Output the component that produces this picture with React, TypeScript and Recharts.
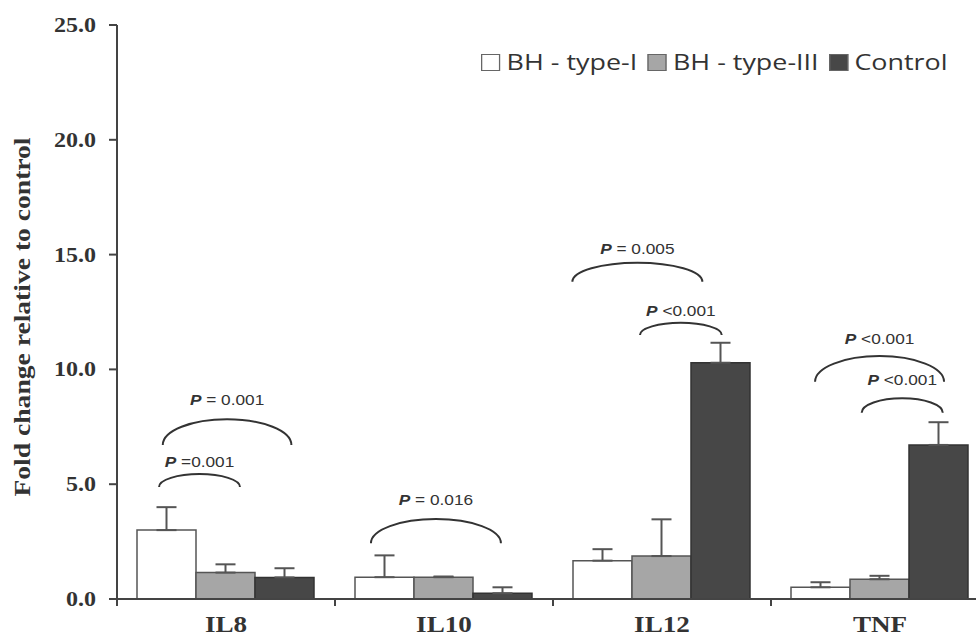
import React from 'react';
import { BarChart, Bar, XAxis, YAxis, ErrorBar, ReferenceArea, Legend, Label } from 'recharts';

const categories = ['IL8', 'IL10', 'IL12', 'TNF'];
const typeI = [3.0, 0.95, 1.67, 0.51];
const typeIErr = [1.0, 0.95, 0.5, 0.22];
const typeIII = [1.15, 0.95, 1.87, 0.86];
const typeIIIErr = [0.36, 0.03, 1.6, 0.15];
const control = [0.94, 0.25, 10.29, 6.71];
const controlErr = [0.4, 0.26, 0.87, 0.99];
const yTicks = [0, 5, 10, 15, 20, 25];
const seriesNames = ['BH - type-I', 'BH - type-III', 'Control'];
const seriesFills = ['#ffffff', '#a6a6a6', '#474747'];

// significance brackets: category, start/end as fraction of the category band, y values
const bracketCat = ['IL8', 'IL8', 'IL10', 'IL12', 'IL12', 'TNF', 'TNF'];
const bracketF1 = [0.21, 0.193, 0.165, 0.089, 0.399, 0.202, 0.416];
const bracketF2 = [0.8, 0.564, 0.761, 0.685, 0.774, 0.794, 0.788];
const bracketYEnd = [6.71, 4.88, 2.43, 13.82, 11.5, 9.46, 8.11];
const bracketYTop = [7.83, 5.44, 3.48, 14.65, 12.03, 10.58, 8.74];
const bracketLabelY = [8.67, 5.98, 4.34, 15.27, 12.56, 11.32, 9.57];
const bracketLabels = ['P = 0.001', 'P =0.001', 'P = 0.016', 'P = 0.005', 'P <0.001', 'P <0.001', 'P <0.001'];

const data = categories.map((name, i) => ({
  name,
  t1: typeI[i],
  t1Err: [0, typeIErr[i]],
  t3: typeIII[i],
  t3Err: [0, typeIIIErr[i]],
  ctl: control[i],
  ctlErr: [0, controlErr[i]],
}));

const SERIF = '"Liberation Serif", "Times New Roman", serif';
const SANS = '"Liberation Sans", Arial, sans-serif';

const YTick = (props: any) => {
  const { x, y, payload } = props;
  return (
    <g transform={`translate(${x},${y}) scale(1.2,1)`}>
      <text x={0} y={0} dy="0.35em" textAnchor="end" fontFamily={SERIF} fontWeight="bold" fontSize={20} fill="#333">
        {Number(payload.value).toFixed(1)}
      </text>
    </g>
  );
};

const XTick = (props: any) => {
  const { x, y, payload } = props;
  return (
    <g transform={`translate(${x},${y}) scale(1.18,1)`}>
      <text x={0} y={12} textAnchor="middle" fontFamily={SERIF} fontWeight="bold" fontSize={23} fill="#333">
        {payload.value}
      </text>
    </g>
  );
};

const renderTitle = (props: any) => {
  const vb = props.viewBox || {};
  const cx = (vb.x || 0) + 22;
  const cy = (vb.y || 0) + (vb.height || 0) / 2 + 5;
  return (
    <g transform={`translate(${cx},${cy}) rotate(-90) scale(1.2,1)`}>
      <text x={0} y={0} dy="0.35em" textAnchor="middle" fontFamily={SERIF} fontWeight="bold" fontSize={23} fill="#333">
        Fold change relative to control
      </text>
    </g>
  );
};

// rect spans the whole category band horizontally, and from yEnd (bottom) to labelY (top)
const makeBracketShape = (i: number) => (props: any) => {
  const { x, y, width, height } = props;
  const label = bracketLabels[i];
  const xa = x + width * bracketF1[i];
  const xb = x + width * bracketF2[i];
  const yEndPx = y + height;
  const frac = (bracketYTop[i] - bracketYEnd[i]) / (bracketLabelY[i] - bracketYEnd[i]);
  const arcH = height * frac;
  const cx = (xa + xb) / 2;
  return (
    <g>
      <path
        d={`M${xa},${yEndPx} A${(xb - xa) / 2},${arcH} 0 0 1 ${xb},${yEndPx}`}
        fill="none"
        stroke="#333"
        strokeWidth={2}
      />
      <g transform={`translate(${cx},${y}) scale(1.15,1)`}>
        <text x={0} y={0} dy="0.35em" textAnchor="middle" fontFamily={SANS} fontSize={15} fill="#333" style={{ whiteSpace: 'pre' }}>
          <tspan fontStyle="italic" fontWeight="bold">{label.slice(0, 1)}</tspan>
          <tspan>{label.slice(1)}</tspan>
        </text>
      </g>
    </g>
  );
};

// tick mark at the left edge of each category band
const BoundaryTick = (props: any) => {
  const { x, y, height } = props;
  const yb = y + height;
  return <line x1={x} y1={yb} x2={x} y2={yb + 7} stroke="#444" strokeWidth={2} />;
};

const renderLegend = () => (
  <div
    style={{
      display: 'flex',
      alignItems: 'center',
      fontFamily: '"Open Sans", sans-serif',
      fontSize: 21,
      color: '#333',
      whiteSpace: 'nowrap',
      lineHeight: '30px',
      transform: 'scaleX(1.28)',
      transformOrigin: 'left center',
    }}
  >
    {seriesNames.map((n, i) => (
      <span key={n} style={{ display: 'flex', alignItems: 'center', marginRight: 8 }}>
        <span
          style={{
            display: 'inline-block',
            width: 13,
            height: 15,
            border: '1.5px solid #666',
            background: seriesFills[i],
            marginRight: 5,
          }}
        />
        <span>{n}</span>
      </span>
    ))}
  </div>
);

export default function App() {
  return (
    <div style={{ position: 'fixed', left: 0, top: 0, width: 976, height: 637, overflow: 'hidden', background: '#fff' }}>
      <BarChart
        width={1000}
        height={637}
        data={data}
        margin={{ top: 25, right: 11, bottom: 8, left: 0 }}
        barCategoryGap={20}
        barGap={0}
      >
        <XAxis
          dataKey="name"
          interval={0}
          tickLine={false}
          tickSize={0}
          tickMargin={21}
          axisLine={{ stroke: '#444', strokeWidth: 2 }}
          tick={<XTick />}
        />
        <YAxis
          width={117}
          domain={[0, 25]}
          ticks={yTicks}
          interval={0}
          tickSize={8}
          tickMargin={13}
          axisLine={{ stroke: '#444', strokeWidth: 2 }}
          tickLine={{ stroke: '#444', strokeWidth: 2 }}
          tick={<YTick />}
          label={<Label content={renderTitle} />}
        />
        <Legend
          layout="horizontal"
          verticalAlign="middle"
          align="center"
          wrapperStyle={{ top: 47, left: 481, width: 'auto', right: 'auto' }}
          content={renderLegend}
        />
        <Bar dataKey="t1" name={seriesNames[0]} fill={seriesFills[0]} stroke="#555" strokeWidth={1.5} isAnimationActive={false}>
          <ErrorBar dataKey="t1Err" width={10} stroke="#555" strokeWidth={2} direction="y" />
        </Bar>
        <Bar dataKey="t3" name={seriesNames[1]} fill={seriesFills[1]} stroke="#555" strokeWidth={1.5} isAnimationActive={false}>
          <ErrorBar dataKey="t3Err" width={10} stroke="#555" strokeWidth={2} direction="y" />
        </Bar>
        <Bar dataKey="ctl" name={seriesNames[2]} fill={seriesFills[2]} stroke="#333" strokeWidth={1.5} isAnimationActive={false}>
          <ErrorBar dataKey="ctlErr" width={10} stroke="#555" strokeWidth={2} direction="y" />
        </Bar>
        {bracketLabels.map((lab, i) => (
          <ReferenceArea
            key={`br${i}`}
            x1={bracketCat[i]}
            x2={bracketCat[i]}
            y1={bracketYEnd[i]}
            y2={bracketLabelY[i]}
            ifOverflow="visible"
            shape={makeBracketShape(i)}
          />
        ))}
        {categories.map((c) => (
          <ReferenceArea key={`tk${c}`} x1={c} x2={c} y1={0} y2={0.5} ifOverflow="visible" shape={<BoundaryTick />} />
        ))}
      </BarChart>
    </div>
  );
}
